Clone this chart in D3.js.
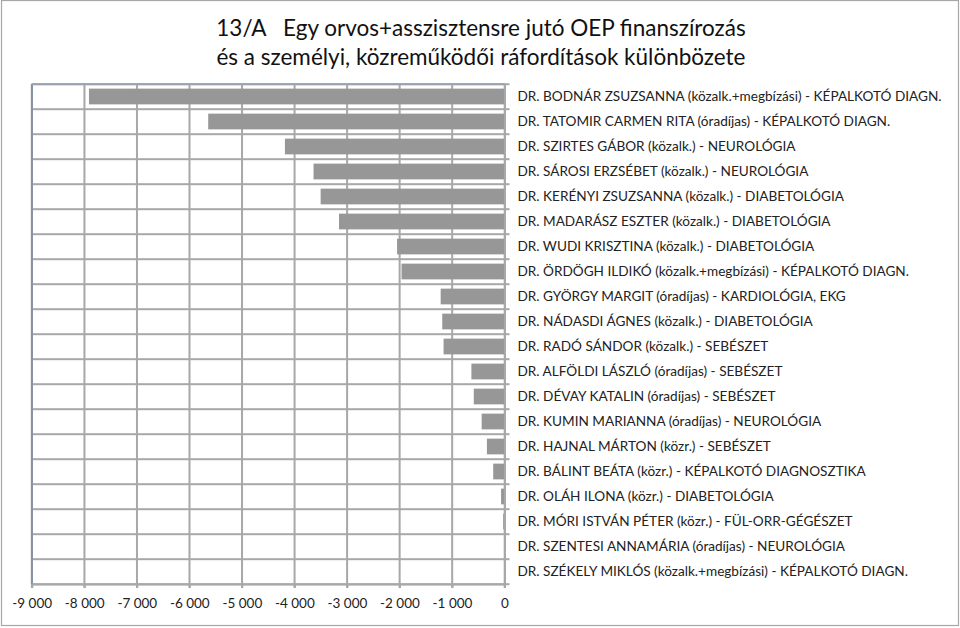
<!DOCTYPE html>
<html>
<head>
<meta charset="utf-8">
<script src="https://cdn.jsdelivr.net/npm/d3@7"></script>
<style>
  body { margin: 0; background: #fff; }
  svg { display: block; font-family: Lato, "Noto Sans", sans-serif; }
</style>
</head>
<body>
<script>
const names = [
  'DR. BODNÁR ZSUZSANNA (közalk.+megbízási) - KÉPALKOTÓ DIAGN.',
  'DR. TATOMIR CARMEN RITA (óradíjas) - KÉPALKOTÓ DIAGN.',
  'DR. SZIRTES GÁBOR (közalk.) - NEUROLÓGIA',
  'DR. SÁROSI ERZSÉBET (közalk.) - NEUROLÓGIA',
  'DR. KERÉNYI ZSUZSANNA (közalk.) - DIABETOLÓGIA',
  'DR. MADARÁSZ ESZTER (közalk.) - DIABETOLÓGIA',
  'DR. WUDI KRISZTINA (közalk.) - DIABETOLÓGIA',
  'DR. ÖRDÖGH ILDIKÓ (közalk.+megbízási) - KÉPALKOTÓ DIAGN.',
  'DR. GYÖRGY MARGIT (óradíjas) - KARDIOLÓGIA, EKG',
  'DR. NÁDASDI ÁGNES (közalk.) - DIABETOLÓGIA',
  'DR. RADÓ SÁNDOR (közalk.) - SEBÉSZET',
  'DR. ALFÖLDI LÁSZLÓ (óradíjas) - SEBÉSZET',
  'DR. DÉVAY KATALIN (óradíjas) - SEBÉSZET',
  'DR. KUMIN MARIANNA (óradíjas) - NEUROLÓGIA',
  'DR. HAJNAL MÁRTON (közr.) - SEBÉSZET',
  'DR. BÁLINT BEÁTA (közr.) - KÉPALKOTÓ DIAGNOSZTIKA',
  'DR. OLÁH ILONA (közr.) - DIABETOLÓGIA',
  'DR. MÓRI ISTVÁN PÉTER (közr.) - FÜL-ORR-GÉGÉSZET',
  'DR. SZENTESI ANNAMÁRIA (óradíjas) - NEUROLÓGIA',
  'DR. SZÉKELY MIKLÓS (közalk.+megbízási) - KÉPALKOTÓ DIAGN.'
]
const values = [-7910, -5640, -4180, -3635, -3500, -3150, -2045, -1960,
  -1215, -1185, -1160, -630, -585, -435, -335, -215, -65, -25, -10, 0]
const xTicks = [-9000, -8000, -7000, -6000, -5000, -4000, -3000, -2000, -1000, 0]
const titleLines = [
  '13/A   Egy orvos+asszisztensre jutó OEP finanszírozás',
  'és a személyi, közreműködői ráfordítások különbözete'
]

const gridColor = '#a8a8a8'
const data = names.map((n, i) => ({ name: n, value: values[i] }))

const svg = d3.select('body').append('svg').attr('width', 960).attr('height', 628)

// keret
svg.append('rect').attr('x', 1.5).attr('y', 0.5).attr('width', 957).attr('height', 625)
  .attr('fill', '#fff').attr('stroke', '#a6a6a6').attr('stroke-width', 1.2)

svg.append('g').selectAll('text').data(titleLines).enter().append('text')
  .attr('x', 481).attr('y', (d, i) => 36 + i * 29)
  .attr('text-anchor', 'middle')
  .style('white-space', 'pre')
  .attr('font-size', 22.5).attr('fill', '#111')
  .text(d => d)

const margin = { top: 84, left: 31.7, right: 455.5, bottom: 44 }
const width = 960 - margin.left - margin.right
const height = 628 - margin.top - margin.bottom
const g = svg.append('g').attr('transform', `translate(${margin.left},${margin.top})`)

const x = d3.scaleLinear().domain([-9000, 0]).range([0, width])
const y = d3.scaleBand().domain(names).range([0, height]).paddingInner(0.37).paddingOuter(0.185)
const yb = d3.scaleBand().domain(names).range([0, height])

// rácsvonalak
const hLines = d3.range(names.length + 1).map(i => Math.round(i * yb.step()))
g.append('g').selectAll('rect').data(hLines).enter().append('rect')
  .attr('x', 0).attr('width', width + 5)
  .attr('y', d => d - 0.8).attr('height', 2)
  .attr('fill', gridColor)
g.append('g').selectAll('rect').data(xTicks).enter().append('rect')
  .attr('x', d => x(d) - 0.8).attr('width', 2)
  .attr('y', 0).attr('height', height + 4)
  .attr('fill', gridColor)

g.append('g').selectAll('rect').data(data).enter().append('rect')
  .attr('fill', '#979797')
  .attr('x', d => x(d.value))
  .attr('width', d => x(0) - x(d.value))
  .attr('y', d => y(d.name))
  .attr('height', y.bandwidth())

// bal és felső szél
g.append('rect').attr('x', -0.8).attr('width', 2).attr('y', 0).attr('height', height)
  .attr('fill', '#8592a2')
g.append('rect').attr('x', 0).attr('width', width).attr('y', -0.8).attr('height', 2)
  .attr('fill', '#9aa4b0')

// x tengely
const fmt = d => d3.format(',')(d).replace(/,/g, ' ').replace('−', '-')
const xAxis = g.append('g').attr('transform', `translate(0,${height})`)
  .call(d3.axisBottom(x).tickValues(xTicks).tickFormat(fmt).tickSize(4).tickPadding(10))
xAxis.select('.domain').attr('stroke', gridColor).attr('stroke-width', 2)
xAxis.selectAll('.tick line').attr('stroke', gridColor).attr('stroke-width', 2)
xAxis.selectAll('text').attr('font-size', 13.5).attr('fill', '#222')
  .attr('font-family', 'Lato, "Noto Sans", sans-serif')

// kategória tengely (jobb oldal)
const yAxis = g.append('g').attr('transform', `translate(${width},0)`)
  .call(d3.axisRight(yb).tickSize(0).tickPadding(13))
yAxis.select('.domain').attr('stroke', gridColor).attr('stroke-width', 2)
yAxis.selectAll('text').attr('font-size', 13.6).attr('fill', '#222')
  .attr('font-family', 'Lato, "Noto Sans", sans-serif')
</script>
</body>
</html>
